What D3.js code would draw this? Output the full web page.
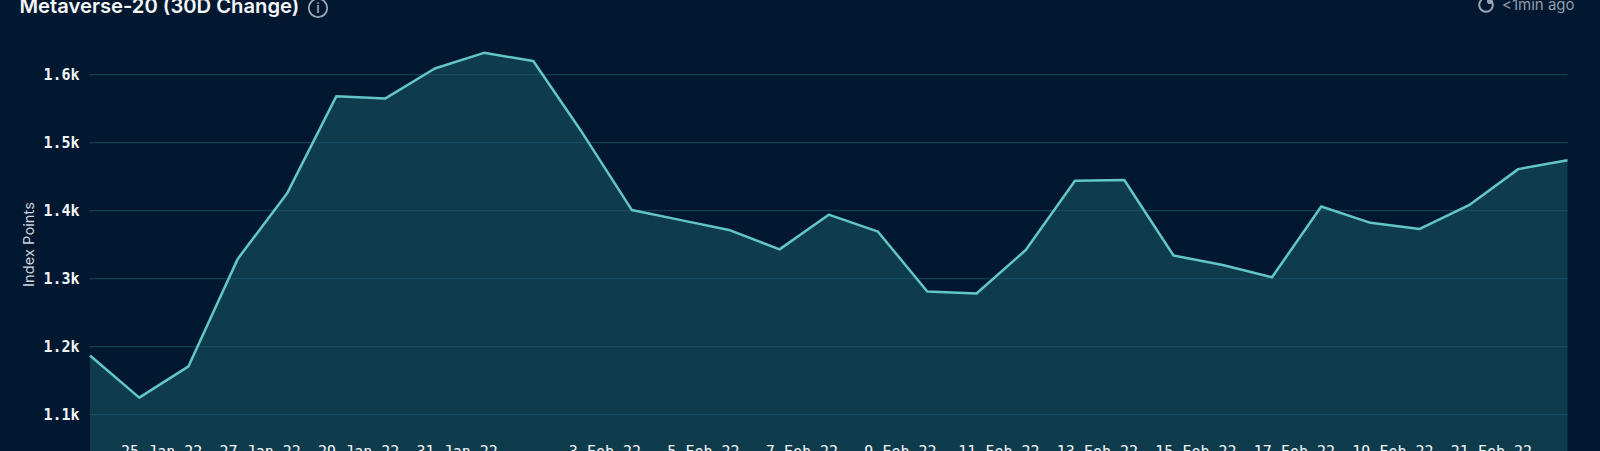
<!DOCTYPE html>
<html><head><meta charset="utf-8">
<script src="https://cdn.jsdelivr.net/npm/d3@7"></script>
<style>html,body{margin:0;padding:0;background:#011830;overflow:hidden}svg{display:block}</style>
</head><body><svg id="c" width="1600" height="451"></svg>
<script>
const startDate = "2022-01-24";
const values = [1187,1125,1171,1329,1425,1568,1565,1609,1632,1620,1514,1401,1386,1371,1343,1394,1369,1281,1278,1342,1444,1445,1334,1320,1302,1406,1382,1373,1408,1461,1474];
const yTicks = [1100,1200,1300,1400,1500,1600];
const xTickDates = ["2022-01-25","2022-01-27","2022-01-29","2022-01-31","2022-02-03","2022-02-05","2022-02-07","2022-02-09","2022-02-11","2022-02-13","2022-02-15","2022-02-17","2022-02-19","2022-02-21"];
const titleText = "Metaverse-20 (30D Change)";
const yTitle = "Index Points";
const updated = "<1min ago";

const W=1600,H=451,L=90,R=1567.5;
const parse=d3.utcParse("%Y-%m-%d");
const t0=parse(startDate);
const data=values.map((v,i)=>({d:d3.utcDay.offset(t0,i),v}));
const x=d3.scaleUtc().domain([t0,data[data.length-1].d]).range([L,R]);
const y=d3.scaleLinear().domain([1000,1600]).range([482.6,74.6]);
const svg=d3.select("#c");
svg.append("path").datum(data).attr("fill","#0f3c4d")
  .attr("d",d3.area().x(d=>x(d.d)).y0(y(1000)).y1(d=>y(d.v)));
svg.append("g").selectAll("line").data(yTicks).join("line")
  .attr("x1",L).attr("x2",R).attr("y1",d=>y(d)).attr("y2",d=>y(d))
  .attr("stroke","#1c5368").attr("stroke-opacity",.65).attr("stroke-width",1.3);
svg.append("path").datum(data).attr("fill","none").attr("stroke","#62c6c8").attr("stroke-width",2.5)
  .attr("stroke-linejoin","round")
  .attr("d",d3.line().x(d=>x(d.d)).y(d=>y(d.v)));
const mono='"DejaVu Sans Mono",monospace', sans='Inter,"Noto Sans",sans-serif';
svg.append("g").selectAll("text").data(yTicks).join("text")
  .attr("x",79.5).attr("y",d=>y(d)).attr("dy","0.36em").attr("text-anchor","end")
  .attr("font-family",mono).attr("font-size",15).attr("font-weight",600).attr("fill","#f2f5f7")
  .text(d=>(d/1000).toFixed(1)+"k");
svg.append("g").selectAll("text").data(xTickDates).join("text")
  .attr("x",d=>x(d3.utcHour.offset(parse(d),12))-2.2).attr("y",456.5).attr("text-anchor","middle")
  .attr("font-family",mono).attr("font-size",15).attr("font-weight",500).attr("fill","#f2f5f7")
  .text(d=>d3.utcFormat("%-d %b %y")(parse(d)));
svg.append("text").attr("transform","translate(34,244.5) rotate(-90)").attr("text-anchor","middle")
  .attr("font-family",sans).attr("font-size",14.7).attr("fill","#c9d3dc").text(yTitle);
svg.append("text").attr("x",19.5).attr("y",12.5).attr("font-family",sans).attr("font-size",20.2).attr("font-weight",600).attr("fill","#f4f6f8").text(titleText);
const ig=svg.append("g").attr("transform","translate(318,8)");
ig.append("circle").attr("r",9.2).attr("fill","none").attr("stroke","#9aa6b2").attr("stroke-width",1.8);
ig.append("text").attr("y",5).attr("text-anchor","middle").attr("font-family",sans).attr("font-size",13).attr("font-weight",600).attr("fill","#9aa6b2").text("i");
const cg=svg.append("g").attr("transform","translate(1486,5)");
cg.append("path").attr("d",d3.arc()({innerRadius:5.8,outerRadius:7.8,startAngle:0.6,endAngle:5.6})).attr("fill","#9aa6b2");
cg.append("circle").attr("cx",3.8).attr("cy",-3.8).attr("r",2.8).attr("fill","#9aa6b2");
svg.append("text").attr("x",1574.5).attr("y",10).attr("text-anchor","end").attr("font-family",sans).attr("font-size",15).attr("fill","#8f9cab").text(updated);
</script></body></html>
